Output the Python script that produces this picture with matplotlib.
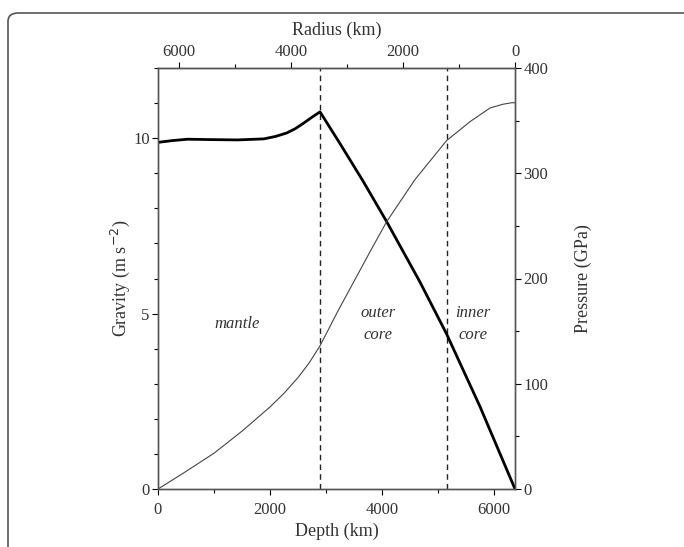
import numpy as np
import matplotlib.pyplot as plt
from matplotlib.patches import FancyBboxPatch
from matplotlib.ticker import MultipleLocator

plt.rcParams['font.family'] = ['Liberation Serif', 'DejaVu Serif']

R_EARTH = 6371

# gravedad (m/s^2) vs profundidad (km)
prof_g = [0, 250, 530, 900, 1420, 1890, 2100, 2300, 2450, 2600, 2750, 2891,
          3250, 3658, 4081, 4675, 5150, 5746, 6371]
gravedad = [9.88, 9.93, 9.97, 9.96, 9.95, 9.98, 10.05, 10.15, 10.27, 10.43,
            10.60, 10.75,
            9.84, 8.78, 7.62, 5.90, 4.42, 2.35, 0.0]

# presion (GPa) vs profundidad (km)
prof_p = [0, 450, 1000, 1500, 2000, 2250, 2500, 2700, 2891,
          3200, 3515, 3800, 4081, 4586, 5150, 5568, 5925, 6150, 6311, 6371]
presion = [0, 15, 34, 55, 78, 91, 106, 120, 136,
           168, 199, 227, 254, 294, 331, 349, 362, 365.5, 367, 367]

limites = [2891, 5150]
capas = [("mantle", 1420), ("outer\ncore", 3930), ("inner\ncore", 5620)]

gris = '#333333'

fig = plt.figure(figsize=(6.84, 5.47), dpi=100)
marco = FancyBboxPatch((8 / 684, -0.05), 1.1, 0.05 + (547 - 13) / 547,
                       boxstyle="round,pad=0,rounding_size=0.015",
                       transform=fig.transFigure, fill=False,
                       edgecolor='#555555', linewidth=1.2)
fig.patches.append(marco)

ax = fig.add_axes([158 / 684, 58 / 547, 357 / 684, 421 / 547])
ax.plot(prof_g, gravedad, color='black', lw=2.0, zorder=3,
        solid_joinstyle='round')
for d in limites:
    ax.axvline(d, color='#222222', lw=1.0, ls=(0, (4, 3)))
ax.set_xlim(0, R_EARTH)
ax.set_ylim(0, 12)
ax.xaxis.set_major_locator(MultipleLocator(2000))
ax.xaxis.set_minor_locator(MultipleLocator(1000))
ax.yaxis.set_major_locator(MultipleLocator(5))
ax.yaxis.set_minor_locator(MultipleLocator(1))
ax.set_xlabel("Depth (km)", fontsize=13, color=gris, labelpad=4)
ax.set_ylabel("Gravity (m s$^{-2}$)", fontsize=13, color=gris, labelpad=1)

for texto, d in capas:
    ax.text(d, 4.7, texto, style='italic', fontsize=12, color=gris,
            ha='center', va='center', linespacing=1.5)

ax2 = ax.twinx()
ax2.plot(prof_p, presion, color='#444444', lw=0.8, solid_joinstyle='round')
ax2.set_ylim(0, 400)
ax2.yaxis.set_major_locator(MultipleLocator(100))
ax2.yaxis.set_minor_locator(MultipleLocator(50))
ax2.set_ylabel("Pressure (GPa)", fontsize=13, color=gris, labelpad=19)

ax3 = ax.secondary_xaxis('top', functions=(lambda d: R_EARTH - d,
                                            lambda r: R_EARTH - r))
ax3.xaxis.set_major_locator(MultipleLocator(2000))
ax3.xaxis.set_minor_locator(MultipleLocator(1000))
ax3.set_xlabel("Radius (km)", fontsize=13, color=gris, labelpad=6)

for a in (ax, ax2, ax3):
    a.tick_params(which='major', direction='out', length=4, width=0.8,
                  labelsize=12, labelcolor=gris, pad=2)
    a.tick_params(which='minor', direction='out', length=3, width=0.8)
ax.tick_params(axis='x', which='major', pad=5)
for a in (ax, ax2):
    for s in a.spines.values():
        s.set_color('#555555')
        s.set_linewidth(1.0)
ax3.spines['top'].set_color('#555555')

fig.savefig("out.png", dpi=100)
